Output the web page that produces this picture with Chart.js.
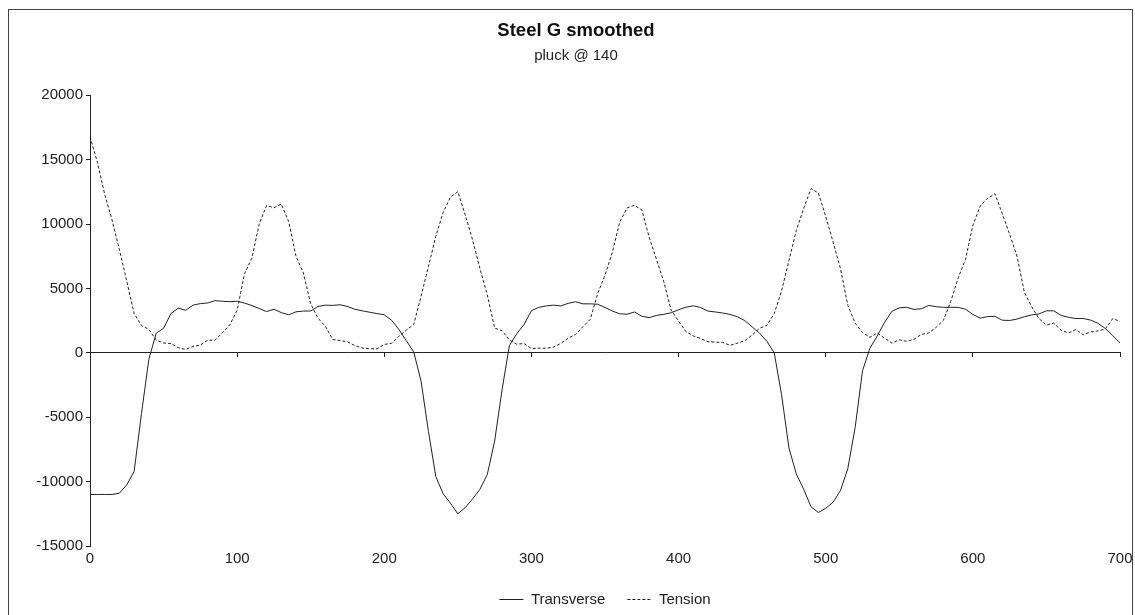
<!DOCTYPE html>
<html>
<head>
<meta charset="utf-8">
<script src="https://cdn.jsdelivr.net/npm/chart.js@4.4.0/dist/chart.umd.min.js"></script>
<style>
  html, body { margin: 0; padding: 0; background: #fff; }
  #wrap { width: 1135px; height: 615px; }
</style>
</head>
<body>
<div id="wrap"><canvas id="chart" width="1135" height="615"></canvas></div>
<script>
// sample positions along the string
const xs = [
  0, 5, 10, 15, 20, 25, 30, 35, 40, 45, 50, 55, 60, 65, 70, 75, 80, 85, 90, 95,
  100, 105, 110, 115, 120, 125, 130, 135, 140, 145, 150, 155, 160, 165, 170, 175, 180, 185, 190, 195,
  200, 205, 210, 215, 220, 225, 230, 235, 240, 245, 250, 255, 260, 265, 270, 275, 280, 285, 290, 295,
  300, 305, 310, 315, 320, 325, 330, 335, 340, 345, 350, 355, 360, 365, 370, 375, 380, 385, 390, 395,
  400, 405, 410, 415, 420, 425, 430, 435, 440, 445, 450, 455, 460, 465, 470, 475, 480, 485, 490, 495,
  500, 505, 510, 515, 520, 525, 530, 535, 540, 545, 550, 555, 560, 565, 570, 575, 580, 585, 590, 595,
  600, 605, 610, 615, 620, 625, 630, 635, 640, 645, 650, 655, 660, 665, 670, 675, 680, 685, 690, 695,
  700
];

const transverse = [
  -11000, -11000, -11000, -11000, -10900, -10250, -9200, -4700, -500, 1520,
  1900, 3050, 3470, 3300, 3700, 3820, 3870, 4050, 4000, 3970,
  4000, 3860, 3670, 3440, 3200, 3380, 3120, 2950, 3180, 3240,
  3250, 3600, 3700, 3680, 3730, 3600, 3380, 3260, 3150, 3050,
  2950, 2520, 1800, 940, 70, -2200, -6100, -9600, -10950, -11680,
  -12500, -12020, -11350, -10600, -9450, -6850, -2900, 560, 1480, 2200,
  3270, 3530, 3640, 3700, 3640, 3840, 3960, 3800, 3800, 3770,
  3520, 3240, 3030, 2990, 3170, 2840, 2730, 2900, 2990, 3110,
  3340, 3540, 3650, 3510, 3240, 3170, 3090, 2980, 2800, 2500,
  2010, 1530, 900, 0, -3250, -7380, -9400, -10590, -11950, -12400,
  -12080, -11600, -10700, -9000, -5800, -1400, 350, 1300, 2370, 3220,
  3490, 3530, 3370, 3420, 3680, 3580, 3530, 3530, 3530, 3380,
  2980, 2690, 2810, 2830, 2530, 2510, 2620, 2800, 2940, 3020,
  3260, 3260, 2900, 2760, 2660, 2660, 2540, 2290, 1890, 1340,
  770
];

const tension = [
  16770, 14800, 12300, 10300, 8000, 5550, 3040, 2110, 1820, 980,
  760, 720, 400, 260, 500, 600, 980, 980, 1560, 2170,
  3300, 6140, 7350, 10000, 11440, 11260, 11550, 10200, 7500, 6200,
  3800, 2680, 2050, 1030, 960, 850, 560, 370, 310, 310,
  650, 740, 1290, 1760, 2200, 4400, 6700, 9030, 10900, 12100,
  12510, 10700, 8770, 6540, 4500, 1920, 1720, 1000, 670, 720,
  330, 360, 350, 440, 730, 1130, 1420, 2030, 2600, 4590,
  6030, 7800, 10150, 11250, 11450, 11100, 8980, 7250, 5500, 3300,
  2450, 1650, 1310, 1110, 860, 830, 800, 580, 750, 940,
  1380, 1900, 2130, 3040, 4800, 7150, 9500, 11200, 12750, 12400,
  10600, 8600, 6550, 3700, 2300, 1580, 1200, 1530, 1140, 750,
  1010, 890, 1050, 1430, 1540, 1970, 2520, 4000, 5800, 7250,
  9900, 11400, 12000, 12350, 10800, 9200, 7500, 4700, 3570, 2650,
  2150, 2300, 1750, 1540, 1810, 1400, 1620, 1700, 1850, 2650,
  2450
];

const yTicks = [-15000, -10000, -5000, 0, 5000, 10000, 15000, 20000];
const xTicks = [0, 100, 200, 300, 400, 500, 600, 700];

const toPoints = (ys) => xs.map((x, i) => ({ x: x, y: ys[i] }));

const FONT = "Arial, 'Liberation Sans', sans-serif";
const INK = "#222";

const frame = {
  id: "frame",
  beforeDraw(chart) {
    const ctx = chart.ctx;
    ctx.save();
    ctx.fillStyle = "#fff";
    ctx.fillRect(0, 0, chart.width, chart.height);
    ctx.strokeStyle = "#444";
    ctx.lineWidth = 1;
    ctx.strokeRect(8.5, 9.5, 1124, 640);
    ctx.restore();
  }
};

const noPad = (s) => {
  s.paddingLeft = 0;
  s.paddingRight = 0;
  s.paddingTop = 0;
  s.paddingBottom = 0;
};

const ctx = document.getElementById("chart").getContext("2d");

new Chart(ctx, {
  type: "line",
  data: {
    datasets: [
      {
        label: "Transverse",
        data: toPoints(transverse),
        borderColor: INK,
        borderWidth: 1,
        pointRadius: 0,
        tension: 0,
      },
      {
        label: "Tension",
        data: toPoints(tension),
        borderColor: INK,
        borderWidth: 1,
        borderDash: [3, 2],
        pointRadius: 0,
        tension: 0,
      },
    ],
  },
  options: {
    responsive: false,
    animation: false,
    layout: { padding: { left: 21, right: 4, top: 0, bottom: -2 } },
    plugins: {
      title: {
        display: true,
        text: "Steel G smoothed",
        color: "#111",
        font: { family: FONT, size: 18.5, weight: "bold" },
        padding: { top: 20, bottom: 5 },
      },
      subtitle: {
        display: true,
        text: "pluck @ 140",
        color: INK,
        font: { family: FONT, size: 15 },
        padding: { top: 0, bottom: 30 },
      },
      legend: {
        position: "bottom",
        fullSize: false,
        labels: {
          color: INK,
          font: { family: FONT, size: 15 },
          usePointStyle: true,
          pointStyle: "line",
          pointStyleWidth: 24,
          padding: 22,
          generateLabels: (chart) => {
            const items = Chart.defaults.plugins.legend.labels.generateLabels(chart);
            items.forEach((it) => {
              const ds = chart.data.datasets[it.datasetIndex];
              it.lineDash = ds.borderDash || [];
              it.strokeStyle = ds.borderColor;
              it.lineWidth = 1;
            });
            return items;
          },
        },
      },
      tooltip: { enabled: false },
    },
    scales: {
      x: {
        type: "linear",
        position: "bottom",
        min: 0,
        max: 700,
        afterBuildTicks: (s) => { s.ticks = xTicks.map((v) => ({ value: v })); },
        ticks: {
          color: INK,
          font: { family: FONT, size: 15 },
          padding: 4,
          maxRotation: 0,
          callback: (v) => String(v),
        },
        grid: { display: false, drawTicks: false },
        border: { display: false },
        afterFit: (s) => { noPad(s); s.paddingRight = 15; s.height = 24; },
      },
      x2: {
        type: "linear",
        position: { y: 0 },
        min: 0,
        max: 700,
        afterBuildTicks: (s) => { s.ticks = xTicks.map((v) => ({ value: v })); },
        ticks: { display: false },
        grid: { drawOnChartArea: false, drawTicks: true, tickLength: 4, color: INK },
        border: { color: INK, width: 1 },
        afterFit: (s) => { noPad(s); },
      },
      y: {
        type: "linear",
        position: "left",
        min: -15000,
        max: 20000,
        afterBuildTicks: (s) => { s.ticks = yTicks.map((v) => ({ value: v })); },
        ticks: {
          color: INK,
          font: { family: FONT, size: 15 },
          padding: 3,
          callback: (v) => String(v),
        },
        grid: { drawOnChartArea: false, drawTicks: true, tickLength: 4, color: INK },
        border: { color: INK, width: 1 },
        afterFit: (s) => { noPad(s); s.width = 69; },
      },
    },
  },
  plugins: [frame],
});
</script>
</body>
</html>
